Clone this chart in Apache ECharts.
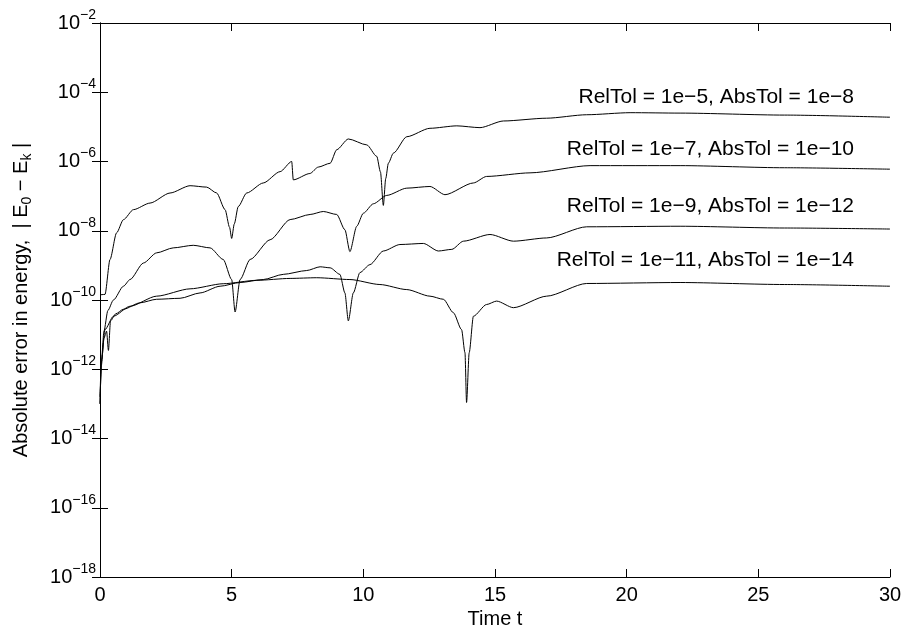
<!DOCTYPE html>
<html lang="en">
<head>
<meta charset="UTF-8">
<title>Absolute error in energy</title>
<script src="https://cdn.jsdelivr.net/npm/echarts@6/dist/echarts.min.js"></script>
<style>
  html, body { margin: 0; padding: 0; background: #fff; }
  #main { width: 904px; height: 630px; }
</style>
</head>
<body>
<div id="main"></div>
<script>
// time samples and |E0 - Ek| for each tolerance setting
var t1 = [0, 0.19, 0.38, 0.63, 0.89, 1.27, 1.9, 2.66, 3.42, 4.05, 4.43, 4.75, 4.92, 5.0, 5.1, 5.25, 5.57, 6.2, 6.84, 7.28, 7.34, 7.97, 8.29, 8.74, 8.99, 9.43, 10.13, 10.51, 10.65, 10.76, 10.85, 10.95, 11.14, 11.65, 12.53, 13.55, 14.43, 15.32, 16.96, 18.48, 20.13, 22.03, 26, 30];
var e1 = [1.41e-10, 1.45e-10, 1.48e-9, 8.7e-9, 2.09e-8, 4.07e-8, 6.3e-8, 1.23e-7, 2.0e-7, 1.82e-7, 1.23e-7, 4.07e-8, 1.26e-8, 6.0e-9, 1.58e-8, 5.0e-8, 1.23e-7, 2.4e-7, 5.1e-7, 1.0e-6, 2.95e-7, 4.5e-7, 6.9e-7, 8.9e-7, 2.19e-6, 4.47e-6, 3.02e-6, 1.41e-6, 5.0e-7, 5.4e-8, 3.2e-7, 8.9e-7, 1.74e-6, 5.2e-6, 9.1e-6, 1.07e-5, 9.5e-6, 1.48e-5, 1.78e-5, 2.24e-5, 2.57e-5, 2.5e-5, 2.19e-5, 1.9e-5];

var t2 = [0, 0.06, 0.15, 0.3, 0.51, 0.89, 1.14, 1.65, 2.15, 2.78, 3.54, 4.18, 4.68, 5.0, 5.13, 5.32, 5.7, 6.46, 7.22, 7.98, 8.48, 8.99, 9.3, 9.49, 9.75, 10.0, 10.38, 10.89, 11.65, 12.53, 13.1, 14.18, 14.68, 16.33, 18.61, 22.03, 26, 30];
var e2 = [1e-13, 2.0e-12, 1.26e-11, 5.0e-11, 1.0e-10, 2.5e-10, 3.9e-10, 1.17e-9, 2.3e-9, 3.2e-9, 3.8e-9, 3.2e-9, 1.48e-9, 3.9e-10, 4.5e-11, 3.9e-10, 1.48e-9, 5.5e-9, 2.1e-8, 2.95e-8, 3.6e-8, 2.95e-8, 1.07e-8, 2.5e-9, 1.35e-8, 3.2e-8, 6.0e-8, 1.05e-7, 1.7e-7, 1.9e-7, 1.1e-7, 2.4e-7, 3.7e-7, 4.7e-7, 7.6e-7, 7.6e-7, 6.6e-7, 6.0e-7];

var t3 = [0, 0.05, 0.15, 0.25, 0.32, 0.4, 0.6, 0.89, 1.52, 2.15, 3.04, 3.8, 4.56, 5.32, 6.2, 6.96, 7.85, 8.36, 8.74, 9.11, 9.3, 9.43, 9.62, 9.87, 10.25, 10.76, 11.39, 12.28, 12.85, 13.36, 13.8, 14.81, 15.7, 16.96, 18.48, 22.03, 26, 30];
var e3 = [1e-13, 1.26e-12, 7.9e-12, 1.26e-11, 3.5e-12, 2.5e-11, 4.0e-11, 5.4e-11, 8.3e-11, 1.05e-10, 1.12e-10, 1.6e-10, 2.5e-10, 3.2e-10, 3.9e-10, 5.5e-10, 7.1e-10, 9.1e-10, 8.5e-10, 5.5e-10, 1.6e-10, 2.5e-11, 1.6e-10, 6.2e-10, 1.05e-9, 2.6e-9, 4.0e-9, 4.3e-9, 2.6e-9, 2.9e-9, 5.0e-9, 7.8e-9, 5.0e-9, 6.2e-9, 1.3e-8, 1.35e-8, 1.2e-8, 1.12e-8];

var t4 = [0, 0.05, 0.19, 0.51, 1.14, 2.15, 3.42, 4.68, 5.95, 7.22, 8.23, 9.49, 10.63, 11.65, 12.53, 13.04, 13.42, 13.73, 13.86, 13.92, 14.02, 14.18, 14.68, 15.06, 15.7, 16.96, 18.48, 22.03, 26, 30];
var e4 = [1.6e-13, 1.6e-12, 1.4e-11, 3.4e-11, 6.6e-11, 1.29e-10, 2.1e-10, 2.95e-10, 3.7e-10, 4.2e-10, 4.4e-10, 3.9e-10, 2.8e-10, 2.0e-10, 1.29e-10, 1.05e-10, 4.3e-11, 1.4e-11, 3.0e-12, 1.1e-13, 3.0e-12, 3.4e-11, 7.4e-11, 9.3e-11, 6.0e-11, 1.29e-10, 3.0e-10, 3.2e-10, 2.8e-10, 2.5e-10];

var curveLabels = [
  'RelTol = 1e\u22125, AbsTol = 1e\u22128',
  'RelTol = 1e\u22127, AbsTol = 1e\u221210',
  'RelTol = 1e\u22129, AbsTol = 1e\u221212',
  'RelTol = 1e\u221211, AbsTol = 1e\u221214'
];
var yTickValues = [1e-18, 1e-16, 1e-14, 1e-12, 1e-10, 1e-8, 1e-6, 1e-4, 1e-2];
var xTickValues = [0, 5, 10, 15, 20, 25, 30];

var FONT = '"Liberation Sans", Arial, Helvetica, sans-serif';

function pairs(t, e) {
  return t.map(function (x, i) { return [x, e[i]]; });
}

function expLabel(v) {
  var p = Math.round(Math.log10(v));
  return '{b|10}{s|' + (p < 0 ? '\u2212' + (-p) : p) + '}';
}

var chart = echarts.init(document.getElementById('main'), null, { renderer: 'canvas' });

var axisLine = { show: true, lineStyle: { color: '#000', width: 1 } };
var tick = { show: true, inside: true, length: 8, lineStyle: { color: '#000', width: 1 } };

var lineSeries = [pairs(t1, e1), pairs(t2, e2), pairs(t3, e3), pairs(t4, e4)].map(function (d) {
  return {
    type: 'line',
    data: d,
    xAxisIndex: 0,
    yAxisIndex: 0,
    showSymbol: false,
    symbol: 'none',
    smooth: 0.25,
    smoothMonotone: 'x',
    lineStyle: { color: '#000', width: 1 },
    silent: true
  };
});

var labelY = [97, 149, 206, 260];

chart.setOption({
  animation: false,
  backgroundColor: '#fff',
  grid: { left: 100, right: 14, top: 23, bottom: 53, containLabel: false, outerBoundsMode: 'none' },
  xAxis: [{
    type: 'value', min: 0, max: 30, interval: 5,
    axisLine: axisLine, axisTick: tick, splitLine: { show: false },
    axisLabel: { color: '#000', fontSize: 20, fontFamily: FONT, margin: 8 },
    name: 'Time t', nameLocation: 'middle', nameGap: 32,
    nameTextStyle: { color: '#000', fontSize: 20, fontFamily: FONT }
  }, {
    type: 'value', position: 'top', min: 0, max: 30, interval: 5,
    axisLine: axisLine, axisTick: tick, splitLine: { show: false },
    axisLabel: { show: false }
  }],
  yAxis: [{
    type: 'log', logBase: 10, min: 1e-18, max: 1e-2, interval: 2,
    axisLine: axisLine, splitLine: { show: false },
    axisTick: Object.assign({ customValues: yTickValues }, tick),
    axisLabel: {
      customValues: yTickValues,
      formatter: expLabel, margin: 4,
      rich: {
        b: { color: '#000', fontSize: 20, fontFamily: FONT },
        s: { color: '#000', fontSize: 14, fontFamily: FONT, padding: [0, 0, 16, 0] }
      }
    },
    name: 'Absolute error in energy,  | E{sub|0} \u2212 E{sub|k} |',
    nameLocation: 'middle', nameGap: 66, nameRotate: 90,
    nameTextStyle: {
      color: '#000', fontSize: 20, fontFamily: FONT,
      rich: { sub: { color: '#000', fontSize: 14, fontFamily: FONT, padding: [12, 0, 0, 0] } }
    }
  }, {
    type: 'log', logBase: 10, position: 'right', min: 1e-18, max: 1e-2, interval: 2,
    axisLine: axisLine, splitLine: { show: false },
    axisTick: Object.assign({ customValues: yTickValues }, tick),
    axisLabel: { show: false }
  }],
  graphic: curveLabels.map(function (txt, i) {
    return {
      type: 'text', x: 854, y: labelY[i], silent: true,
      style: {
        text: txt, fill: '#000', font: '21px ' + FONT,
        align: 'right', verticalAlign: 'middle',
        textAlign: 'right', textVerticalAlign: 'middle'
      }
    };
  }),
  series: lineSeries
});
</script>
</body>
</html>
